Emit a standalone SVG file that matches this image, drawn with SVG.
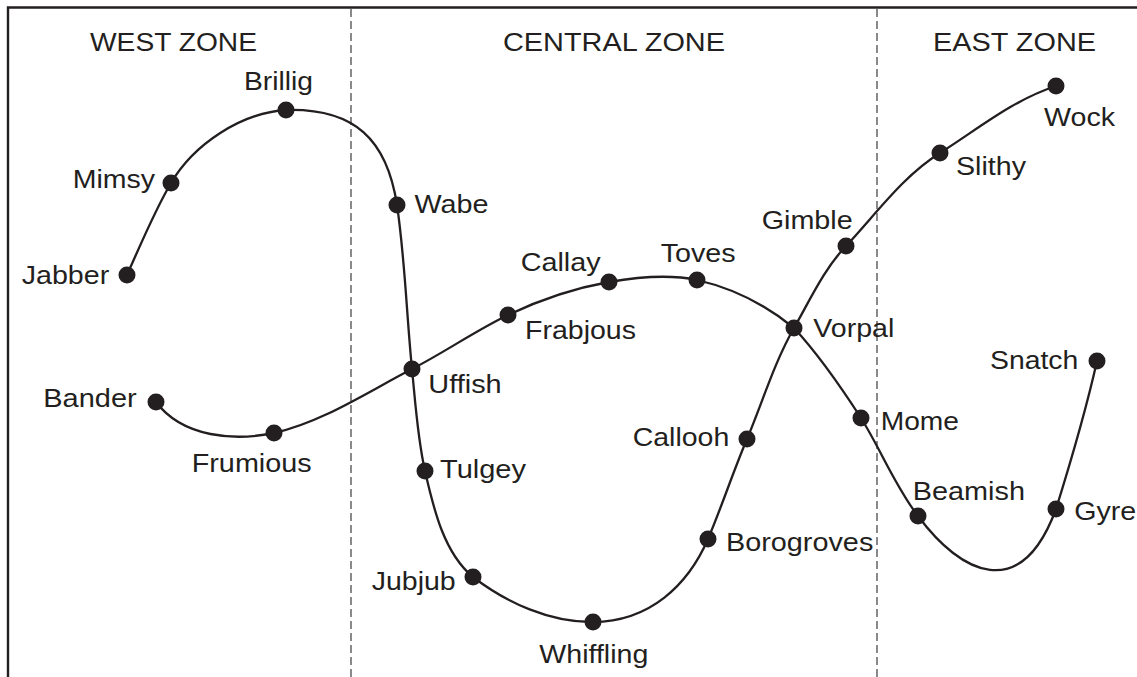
<svg xmlns="http://www.w3.org/2000/svg" width="1137" height="677" viewBox="0 0 1137 677">
<style>
text{font-family:"Liberation Sans",Arial,sans-serif;font-size:25px;fill:#231f20}
.dot{fill:#231f20}
.curve{fill:none;stroke:#231f20;stroke-width:2.3}
.frame{fill:none;stroke:#231f20;stroke-width:2.4}
.zone{stroke:#58595b;stroke-width:1.4;stroke-dasharray:8 4}
</style>
<rect width="1137" height="677" fill="#fff"/>
<g id="frame">
<path class="frame" d="M8,677 V7.5 H1137"/>
<line class="zone" x1="351" y1="9" x2="351" y2="677"/>
<line class="zone" x1="877" y1="9" x2="877" y2="677"/>
</g>
<g id="zones">
<text x="90" y="51" textLength="167" lengthAdjust="spacingAndGlyphs">WEST ZONE</text>
<text x="503" y="51" textLength="222" lengthAdjust="spacingAndGlyphs">CENTRAL ZONE</text>
<text x="933" y="51" textLength="163" lengthAdjust="spacingAndGlyphs">EAST ZONE</text>
</g>
<g id="connectors">
<path class="curve" d="M127,275 C141,244 154,212 171,183 C194,144 241,113 286,110 C355,108 387,140 397,205 C405,259 406.5,314 412,369 C415.4,403 417.5,438 425,471 C433.6,509 444,553 473,577 C507,603 550,622.5 593,622 C650,621.5 688,585 708,539 C722,506 733,472 747,439 C762.6,402 774,363 794,328 C810,300 824,269 846,246 C876,214 903,176 940,153 C978,129 1013,100 1056,86"/>
<path class="curve" d="M156,402 C183,438 235,441 274,433 C322.5,422 367.5,392 412,369 C445,352 475,331 508,315 C539.5,300 575,288 609,282 C637.5,277 669,274 697,280 C732,288 766,305 794,328 C819,355 841,387 861,418 C881,450 895,486 918,516 C961,574 1021,604 1056,509 C1071,461 1086,410 1097,361"/>
</g>
<g id="jabber"><circle class="dot" cx="127" cy="275" r="8.5"/><text x="21.7" y="284" textLength="87.6" lengthAdjust="spacingAndGlyphs">Jabber</text></g>
<g id="mimsy"><circle class="dot" cx="171" cy="183" r="8.5"/><text x="72.7" y="188" textLength="82.3" lengthAdjust="spacingAndGlyphs">Mimsy</text></g>
<g id="brillig"><circle class="dot" cx="286" cy="110" r="8.5"/><text x="244" y="90" textLength="69" lengthAdjust="spacingAndGlyphs">Brillig</text></g>
<g id="wabe"><circle class="dot" cx="397" cy="205" r="8.5"/><text x="414.5" y="213" textLength="74" lengthAdjust="spacingAndGlyphs">Wabe</text></g>
<g id="uffish"><circle class="dot" cx="412" cy="369" r="8.5"/><text x="428.3" y="393.3" textLength="73.4" lengthAdjust="spacingAndGlyphs">Uffish</text></g>
<g id="tulgey"><circle class="dot" cx="425" cy="471" r="8.5"/><text x="440" y="478" textLength="86" lengthAdjust="spacingAndGlyphs">Tulgey</text></g>
<g id="jubjub"><circle class="dot" cx="473" cy="577" r="8.5"/><text x="371.7" y="590" textLength="84" lengthAdjust="spacingAndGlyphs">Jubjub</text></g>
<g id="whiffling"><circle class="dot" cx="593" cy="622" r="8.5"/><text x="539.3" y="663.3" textLength="109" lengthAdjust="spacingAndGlyphs">Whiffling</text></g>
<g id="borogroves"><circle class="dot" cx="708" cy="539" r="8.5"/><text x="726" y="550.7" textLength="147.3" lengthAdjust="spacingAndGlyphs">Borogroves</text></g>
<g id="callooh"><circle class="dot" cx="747" cy="439" r="8.5"/><text x="632.7" y="446" textLength="96.6" lengthAdjust="spacingAndGlyphs">Callooh</text></g>
<g id="vorpal"><circle class="dot" cx="794" cy="328" r="8.5"/><text x="813.3" y="336.7" textLength="81" lengthAdjust="spacingAndGlyphs">Vorpal</text></g>
<g id="gimble"><circle class="dot" cx="846" cy="246" r="8.5"/><text x="761.7" y="229" textLength="91" lengthAdjust="spacingAndGlyphs">Gimble</text></g>
<g id="slithy"><circle class="dot" cx="940" cy="153" r="8.5"/><text x="956" y="174.5" textLength="70" lengthAdjust="spacingAndGlyphs">Slithy</text></g>
<g id="wock"><circle class="dot" cx="1056" cy="86" r="8.5"/><text x="1044" y="126" textLength="71" lengthAdjust="spacingAndGlyphs">Wock</text></g>
<g id="bander"><circle class="dot" cx="156" cy="402" r="8.5"/><text x="43.3" y="407.3" textLength="93.4" lengthAdjust="spacingAndGlyphs">Bander</text></g>
<g id="frumious"><circle class="dot" cx="274" cy="433" r="8.5"/><text x="191.7" y="471.7" textLength="120" lengthAdjust="spacingAndGlyphs">Frumious</text></g>
<g id="frabjous"><circle class="dot" cx="508" cy="315" r="8.5"/><text x="525" y="339.3" textLength="111" lengthAdjust="spacingAndGlyphs">Frabjous</text></g>
<g id="callay"><circle class="dot" cx="609" cy="282" r="8.5"/><text x="520.7" y="271" textLength="80" lengthAdjust="spacingAndGlyphs">Callay</text></g>
<g id="toves"><circle class="dot" cx="697" cy="280" r="8.5"/><text x="660.7" y="262.3" textLength="75" lengthAdjust="spacingAndGlyphs">Toves</text></g>
<g id="mome"><circle class="dot" cx="861" cy="418" r="8.5"/><text x="880.7" y="429.6" textLength="78.3" lengthAdjust="spacingAndGlyphs">Mome</text></g>
<g id="beamish"><circle class="dot" cx="918" cy="516" r="8.5"/><text x="912.7" y="499.6" textLength="112.3" lengthAdjust="spacingAndGlyphs">Beamish</text></g>
<g id="gyre"><circle class="dot" cx="1056" cy="509" r="8.5"/><text x="1074.3" y="520" textLength="62" lengthAdjust="spacingAndGlyphs">Gyre</text></g>
<g id="snatch"><circle class="dot" cx="1097" cy="361" r="8.5"/><text x="990" y="369" textLength="88.3" lengthAdjust="spacingAndGlyphs">Snatch</text></g>
</svg>
